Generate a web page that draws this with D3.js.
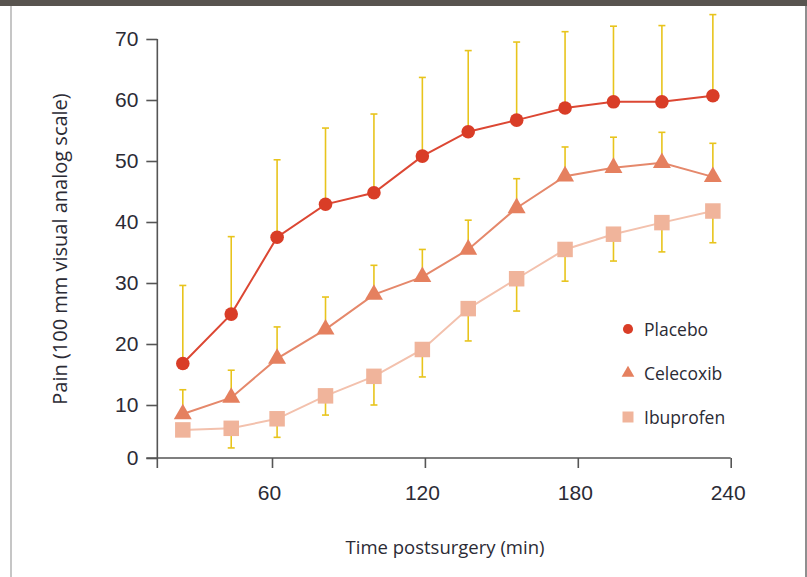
<!DOCTYPE html>
<html>
<meta charset="utf-8">
<head>
<style>
body { margin: 0; background: #fff; }
svg { display: block; font-family: "Open Sans", Lato, sans-serif; }
.axis text { fill: #2b2b35; font-size: 21px; }
.axis line, .axis path { stroke: #555; stroke-width: 1.6px; }
</style>
</head>
<body>
<svg width="807" height="577"></svg>

<script src="https://cdn.jsdelivr.net/npm/d3@7"></script>

<script>

// data (minutes postsurgery, pain mean, SD)
var times = [25, 44, 62, 81, 100, 119, 137, 156, 175, 194, 213, 233];
var placebo = [16.8, 24.9, 37.5, 42.9, 44.8, 50.8, 54.8, 56.7, 58.7, 59.7, 59.7, 60.7];
var placeboSD = [12.8, 12.7, 12.7, 12.5, 12.9, 12.9, 13.3, 12.8, 12.5, 12.4, 12.5, 13.3];
var celecoxib = [8.3, 11.2, 17.6, 22.4, 28.1, 31.0, 35.5, 42.3, 47.5, 48.9, 49.7, 47.4];
var celecoxibSD = [4.2, 4.5, 5.2, 5.3, 4.8, 4.5, 4.8, 4.8, 4.8, 5.0, 5.0, 5.5];
var ibuprofen = [5.3, 5.6, 7.4, 11.5, 14.7, 19.1, 25.8, 30.7, 35.5, 38.0, 39.9, 41.8];
var ibuprofenSD = [1.0, 3.7, 3.5, 3.4, 4.7, 4.5, 5.3, 5.3, 5.2, 4.4, 4.8, 5.2];

var xTicks = [60, 120, 180, 240];
var yTicks = [0, 10, 20, 30, 40, 50, 60, 70];
var seriesNames = ["Placebo", "Celecoxib", "Ibuprofen"];

var svg = d3.select("svg");

// page frame: dark strip on top, grey rules left and right
svg.append("rect").attr("x", 0).attr("y", 0).attr("width", 807).attr("height", 6).attr("fill", "#58544f");
svg.append("line").attr("x1", 11).attr("x2", 11).attr("y1", 6).attr("y2", 577)
    .attr("stroke", "#c6c6c6").attr("stroke-width", 2);
svg.append("line").attr("x1", 806).attr("x2", 806).attr("y1", 6).attr("y2", 577)
    .attr("stroke", "#6a6a6a").attr("stroke-width", 1.5);

var x = d3.scaleLinear().domain([0, 240]).range([119.1, 730.7]);
// the printed zero sits a little off the regular spacing
var y = d3.scaleLinear().domain([0, 10, 70]).range([458, 405, 39]);

var x0 = x(15); // where the y axis stands

//y axis
var yAxis = svg.append("g")
    .attr("class", "axis")
    .attr("transform", "translate(" + x0 + ",0)")
    .call(d3.axisLeft(y).tickValues(yTicks).tickSize(11).tickPadding(8).tickFormat(d3.format("d")));
yAxis.select(".domain").remove();
yAxis.append("line")
    .attr("x1", 0).attr("x2", 0)
    .attr("y1", y(70)).attr("y2", y(0) + 10);

//x axis
var xAxis = svg.append("g")
    .attr("class", "axis")
    .attr("transform", "translate(0," + y(0) + ")")
    .call(d3.axisBottom(x).tickValues(xTicks).tickSize(10).tickPadding(17));
xAxis.select(".domain").remove();
xAxis.append("line")
    .attr("x1", x0 - 11).attr("x2", x(240))
    .attr("y1", 0).attr("y2", 0);
xAxis.selectAll(".tick text").attr("dx", -3);

// axis titles
svg.append("text")
    .attr("x", 445).attr("y", 554)
    .attr("text-anchor", "middle")
    .attr("fill", "#2b2b35")
    .style("font-size", "18.5px")
    .text("Time postsurgery (min)");

svg.append("text")
    .attr("transform", "translate(67,249) rotate(-90)")
    .attr("text-anchor", "middle")
    .attr("fill", "#2b2b35")
    .style("font-size", "20px")
    .text("Pain (100 mm visual analog scale)");

var series = [
  { name: "Placebo", values: placebo, sd: placeboSD, dir: -1, line: "#dc4733", fill: "#d93d27", shape: d3.symbolCircle, size: 145, lsize: 80 },
  { name: "Celecoxib", values: celecoxib, sd: celecoxibSD, dir: -1, line: "#e5886b", fill: "#e5805f", shape: d3.symbolTriangle, size: 140, lsize: 70 },
  { name: "Ibuprofen", values: ibuprofen, sd: ibuprofenSD, dir: 1, line: "#f3c1ad", fill: "#f0b49b", shape: d3.symbolSquare, size: 240, lsize: 121 }
];

var line = d3.line()
    .x(function(d) { return x(d.t); })
    .y(function(d) { return y(d.v); });

var errColor = "#e8c41c";

series.forEach(function(s) {
  var pts = times.map(function(t, i) { return { t: t, v: s.values[i], sd: s.sd[i] }; });
  // error bar end: above the mean for placebo/celecoxib, below for ibuprofen
  var end = function(d) { return y(d.v - s.dir * d.sd); };

  var eb = svg.append("g").attr("stroke", errColor).attr("stroke-width", 1.6);
  eb.selectAll(".bar").data(pts).enter().append("line")
      .attr("x1", function(d) { return x(d.t); })
      .attr("x2", function(d) { return x(d.t); })
      .attr("y1", function(d) { return y(d.v); })
      .attr("y2", end);
  eb.selectAll(".cap").data(pts).enter().append("line")
      .attr("x1", function(d) { return x(d.t) - 3.5; })
      .attr("x2", function(d) { return x(d.t) + 3.5; })
      .attr("y1", end)
      .attr("y2", end);

  s.pts = pts;
});

// draw lines then markers, lightest series at the back
series.slice().reverse().forEach(function(s) {
  svg.append("path")
      .datum(s.pts)
      .attr("fill", "none")
      .attr("stroke", s.line)
      .attr("stroke-width", 2)
      .attr("d", line);

  svg.append("g").selectAll("path")
    .data(s.pts)
    .enter().append("path")
      .attr("transform", function(d) { return "translate(" + x(d.t) + "," + y(d.v) + ")"; })
      .attr("d", d3.symbol().type(s.shape).size(s.size))
      .attr("fill", s.fill);
});

//legend
var legend = svg.append("g").attr("transform", "translate(628,329)");
var item = legend.selectAll("g")
    .data(series)
    .enter().append("g")
      .attr("transform", function(d, i) { return "translate(0," + (i * 44) + ")"; });
item.append("path")
    .attr("d", function(d) { return d3.symbol().type(d.shape).size(d.lsize)(); })
    .attr("fill", function(d) { return d.fill; });
item.append("text")
    .attr("x", 16).attr("y", 7)
    .attr("fill", "#2b2b35")
    .style("font-size", "17.5px")
    .text(function(d) { return d.name; });

</script>
</body>

</html>
